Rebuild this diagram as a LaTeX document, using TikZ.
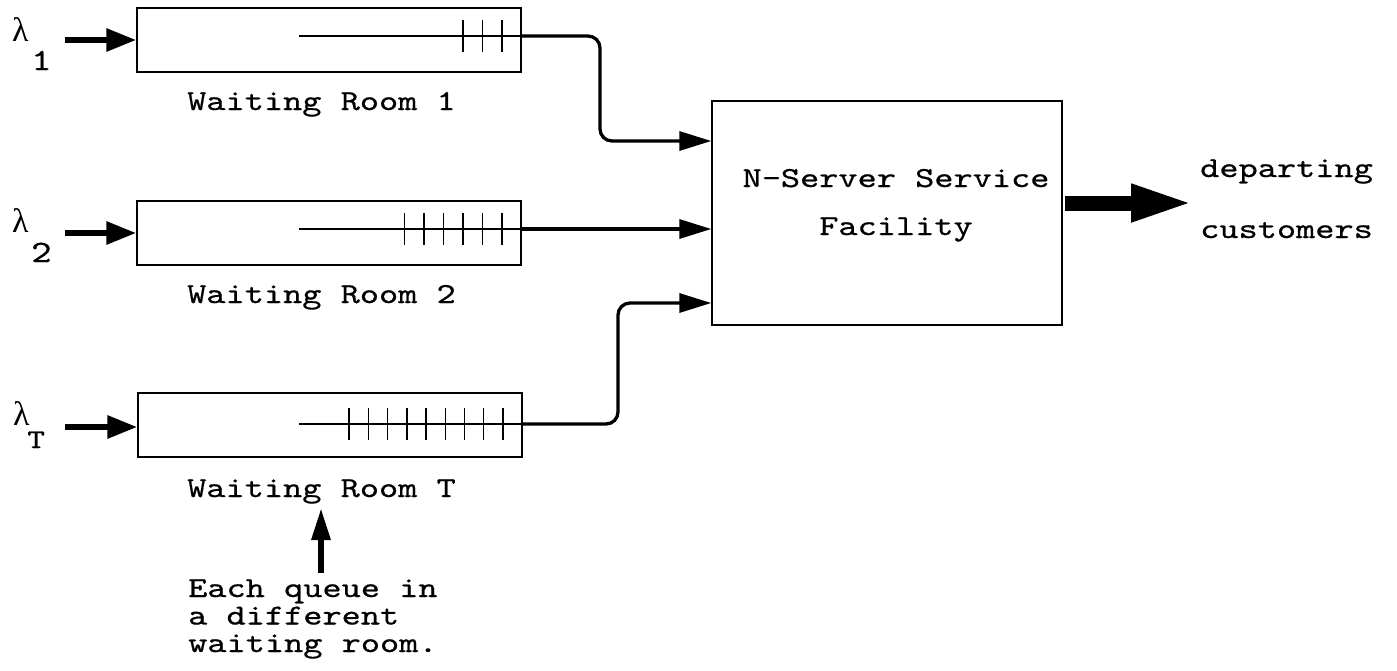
\documentclass[tikz,border=0pt]{standalone}
\usepackage{fontspec}
\usetikzlibrary{arrows.meta,calc}
\newfontfamily\tw{lmmono10-regular.otf}[FakeStretch=1.26,FakeBold=0.6]
\newfontfamily\gk{Liberation Serif}
\begin{document}
\begin{tikzpicture}[x=1pt,y=-1pt,
  room/.style={draw,line width=1.4pt,minimum width=384pt,minimum height=64pt,inner sep=0pt},
  facbox/.style={draw,line width=1.4pt,minimum width=350pt,minimum height=224pt,inner sep=0pt},
  txt/.style={font=\tw\fontsize{29}{27.5}\selectfont,inner sep=0pt,anchor=base west},
  lam/.style={font=\gk\fontsize{34}{34}\selectfont,inner sep=0pt,anchor=base west},
  sub/.style={font=\tw\fontsize{31}{31}\selectfont,inner sep=0pt,anchor=base west},
  inarrow/.style={line width=6pt,-{Triangle[length=30pt,width=22pt]}},
  feed/.style={line width=3.3pt,rounded corners=12pt,-{Triangle[length=32pt,width=19pt]}},
  qline/.style={line width=1.4pt},
  tick/.style={line width=1.6pt}
]
\useasboundingbox (0,0) rectangle (1397,670);

% waiting rooms
\node[room] (box1) at (329,40) {};
\node[room] (box2) at (329,233) {};
\node[room] (boxT) at (330,425) {};

% queue lines and customers
\draw[qline] (299,36) -- (box1.east |- 0,36);
\foreach \x in {463,482.5,502} \draw[tick] (\x,20) -- (\x,52);
\draw[qline] (299,229) -- (box2.east |- 0,229);
\foreach \x in {404.3,424,443.3,462.7,482.3,501.7} \draw[tick] (\x,213) -- (\x,245);
\draw[qline] (299,424) -- (boxT.east |- 0,424);
\foreach \x in {349,368.3,387.3,406.7,426,445.3,464.3,483.3,503} \draw[tick] (\x,408) -- (\x,440);

% labels under rooms
\node[txt] (wr1) at (187,110) {Waiting Room 1};
\node[txt] (wr2) at (187,303) {Waiting Room 2};
\node[txt] (wrT) at (187,497) {Waiting Room T};

% arrival rates
\node[lam] (l1) at (12,41) {λ};
\node[sub] (l1s) at (31,70) {1};
\node[lam] (l2) at (12,232) {λ};
\node[sub] (l2s) at (31,262) {2};
\node[lam] (lT) at (13,425) {λ};
\node[sub,font=\tw\fontsize{27}{27}\selectfont] (lTs) at (27,448) {T};

\coordinate (s1) at (65,40);
\coordinate (s2) at (65,233);
\coordinate (sT) at (65,427);
\draw[inarrow] (s1) -- (box1.west);
\draw[inarrow] (s2) -- (box2.west);
\draw[inarrow] (sT) -- (boxT.west |- sT);

% service facility
\node[facbox] (facility) at (887,213) {};
\node[txt,align=center,anchor=base,font=\tw\fontsize{29}{48}\selectfont] (factext) at (896,235) {N-Server Service\\Facility};

% feeds into the facility
\coordinate (f1) at (facility.west |- 0,141);
\coordinate (f2) at (facility.west |- 0,229);
\coordinate (f3) at (facility.west |- 0,303);
\draw[feed] (box1.east |- 0,36) -- (600,36) -- (600,141) -- (f1);
\draw[feed] (box2.east |- 0,229) -- (f2);
\draw[feed] (boxT.east |- 0,424) -- (618,424) -- (618,303) -- (f3);

% departing customers
\coordinate (d0) at (1065,203);
\coordinate (d1) at (1194,203);
\draw[line width=15pt,-{Triangle[length=63pt,width=34pt]}] (d0) -- (d1);
\node[txt,align=left,font=\tw\fontsize{29}{61}\selectfont] (dep) at (1200,238) {departing\\customers};

% note
\node[txt,align=left] (note) at (188,652) {Each queue in\\a different\\waiting room.};
\coordinate (u0) at (321,573);
\coordinate (u1) at (321,508);
\draw[line width=6pt,-{Triangle[length=32pt,width=18pt]}] (u0) -- (u1);
\end{tikzpicture}
\end{document}
